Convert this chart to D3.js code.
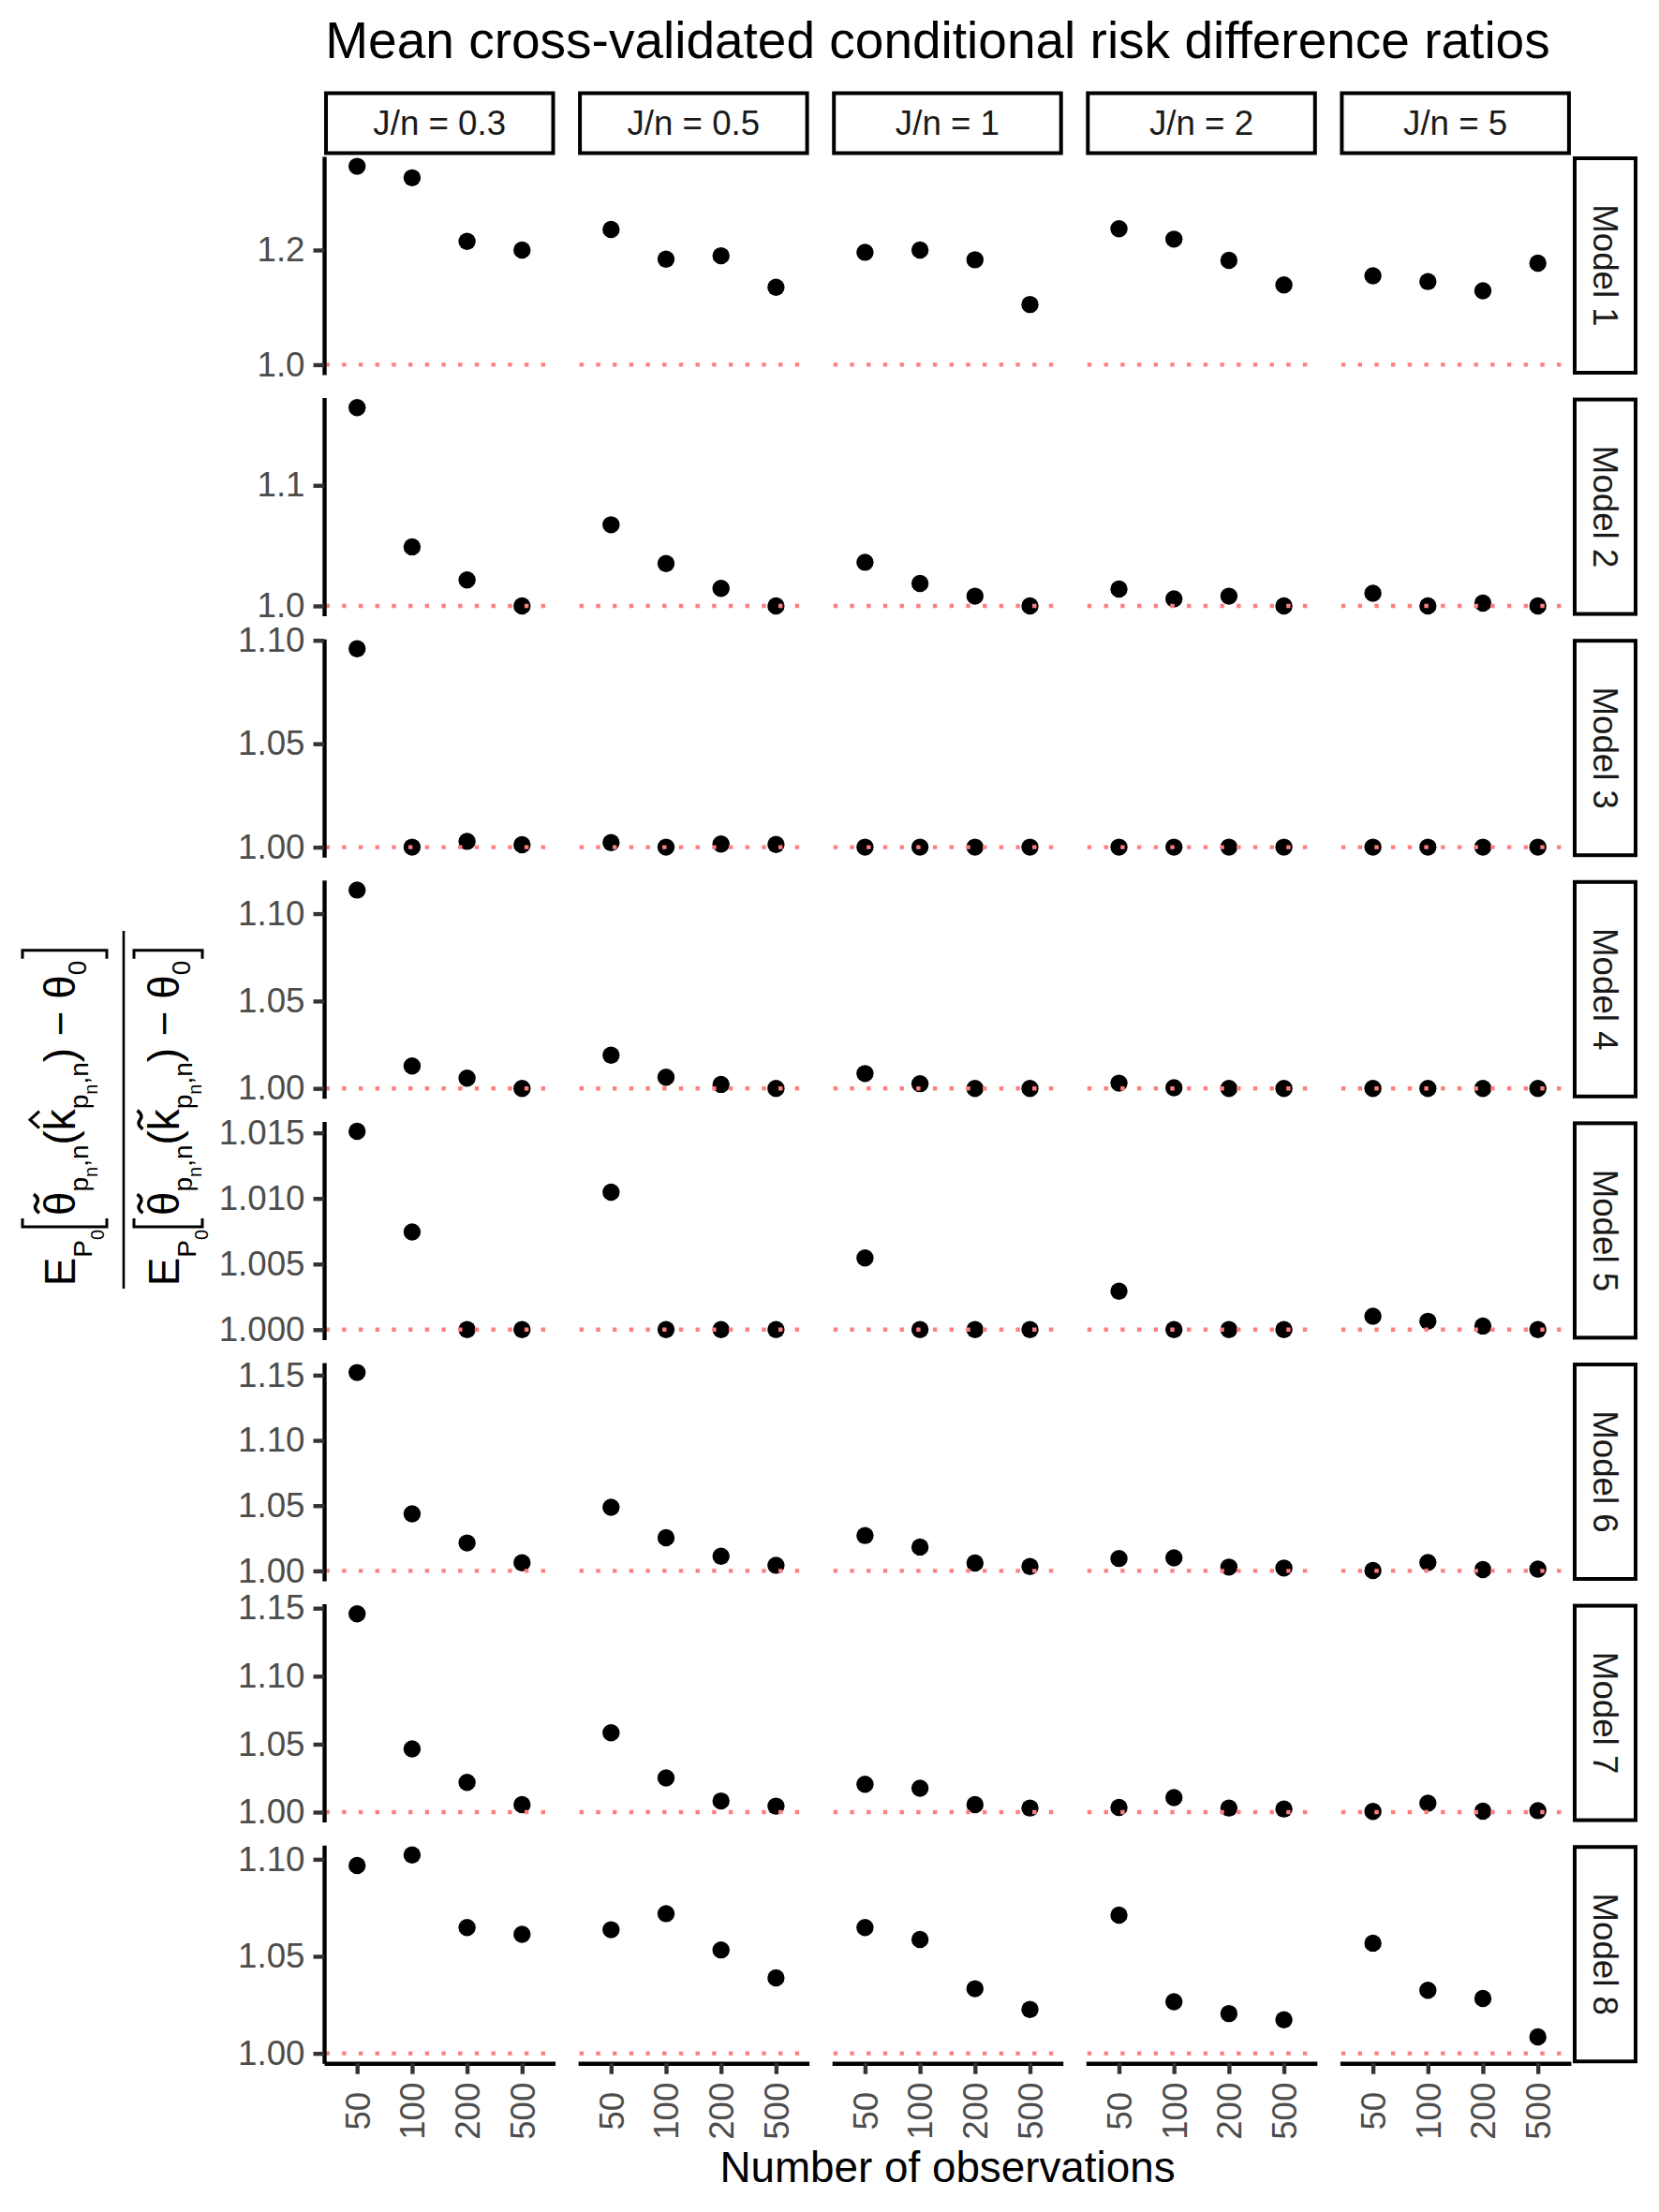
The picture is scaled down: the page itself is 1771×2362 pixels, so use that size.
<!DOCTYPE html>
<html>
<head>
<meta charset="utf-8">
<script src="https://cdn.jsdelivr.net/npm/d3@7"></script>
<style>
    body { margin: 0; background: #fff; }
    svg text { font-family: "Liberation Sans", Arial, Helvetica, sans-serif; }
</style>
</head>
<body>
<script>
// x categories and facet labels
var sampleSizes = ["50", "100", "200", "500"];
var ratioLabels = ["J/n = 0.3", "J/n = 0.5", "J/n = 1", "J/n = 2", "J/n = 5"];
var modelLabels = ["Model 1", "Model 2", "Model 3", "Model 4", "Model 5", "Model 6", "Model 7", "Model 8"];

// one row per J/n value, one value per sample size
var model1 = [
    [1.346, 1.326, 1.215, 1.200],
    [1.236, 1.184, 1.190, 1.135],
    [1.196, 1.200, 1.183, 1.105],
    [1.237, 1.219, 1.182, 1.139],
    [1.155, 1.145, 1.129, 1.177]
];
var model2 = [
    [1.1645, 1.049, 1.0216, 1.000],
    [1.0673, 1.0352, 1.0146, 1.000],
    [1.0362, 1.0186, 1.0081, 1.000],
    [1.014, 1.0058, 1.0081, 1.000],
    [1.0105, 1.000, 1.0023, 1.000]
];
var model3 = [
    [1.0959, 1.000, 1.0028, 1.0012],
    [1.0022, 1.000, 1.0015, 1.0013],
    [1.000, 1.000, 1.000, 1.000],
    [1.000, 1.000, 1.000, 1.000],
    [1.000, 1.000, 1.000, 1.000]
];
var model4 = [
    [1.1135, 1.0128, 1.0059, 1.000],
    [1.019, 1.0064, 1.0023, 1.000],
    [1.0085, 1.0027, 1.000, 1.000],
    [1.003, 1.0004, 1.000, 1.000],
    [1.000, 1.000, 1.000, 1.000]
];
var model5 = [
    [1.01512, 1.00745, 1.000, 1.000],
    [1.01048, 1.000, 1.000, 1.000],
    [1.00547, 1.000, 1.000, 1.000],
    [1.00293, 1.000, 1.000, 1.000],
    [1.00102, 1.00064, 1.00028, 1.000]
];
var model6 = [
    [1.152, 1.0437, 1.0214, 1.0062],
    [1.0487, 1.0254, 1.0112, 1.0043],
    [1.0271, 1.0183, 1.006, 1.0033],
    [1.0095, 1.010, 1.0029, 1.0022],
    [1.0003, 1.0064, 1.001, 1.0014]
];
var model7 = [
    [1.1459, 1.0465, 1.0219, 1.0055],
    [1.0584, 1.0251, 1.0082, 1.0044],
    [1.0205, 1.0176, 1.0055, 1.003],
    [1.0034, 1.0107, 1.003, 1.0023],
    [1.0005, 1.0066, 1.0007, 1.0011]
];
var model8 = [
    [1.0968, 1.1022, 1.0648, 1.0613],
    [1.0637, 1.072, 1.0533, 1.0389],
    [1.0648, 1.0587, 1.0333, 1.0226],
    [1.0712, 1.0266, 1.0205, 1.0173],
    [1.0568, 1.0325, 1.0283, 1.0085]
];

// y tick labels for each model row
var yTicks = [
    [1.0, 1.2],
    [1.0, 1.1],
    [1.00, 1.05, 1.10],
    [1.00, 1.05, 1.10],
    [1.000, 1.005, 1.010, 1.015],
    [1.00, 1.05, 1.10, 1.15],
    [1.00, 1.05, 1.10, 1.15],
    [1.00, 1.05, 1.10]
];
var yTickFormats = [".1f", ".1f", ".2f", ".2f", ".3f", ".2f", ".2f", ".2f"];
var reference = 1;

var RISK = {
    init: function () {
        var self = this;

        // PROPERTIES
        self.width = 1771;
        self.height = 2362;
        self.panelLeft = 346;
        self.panelTop = 167;
        self.panelW = 246.5;
        self.panelH = 233;
        self.gap = 24.6;
        self.stripTop = 97.5;
        self.stripH = 68;
        self.sideStripX = 1679;
        self.sideStripW = 69;

        self.models = [model1, model2, model3, model4, model5, model6, model7, model8];

        // SVG Setup
        self.svg = d3.select("body").append("svg");
        self.svg.attr("width", self.width);
        self.svg.attr("height", self.height);

        self.draw();
    },
    draw: function () {
        var self = this,
            x = d3.scalePoint().domain(sampleSizes).padding(0.6);

        self.models.forEach(function (rows, i) {
            var top = self.panelTop + i * (self.panelH + self.gap),
                bottom = top + self.panelH,
                all = d3.merge(rows).concat([reference]),
                lo = d3.min(all),
                hi = d3.max(all),
                pad = (hi - lo) * 0.05,
                y = d3.scaleLinear().domain([lo - pad, hi + pad]).range([bottom, top]);

            rows.forEach(function (vals, j) {
                var left = self.panelLeft + j * (self.panelW + self.gap),
                    xs = x.copy().range([left, left + self.panelW]),
                    g = self.svg.append("g");

                g.selectAll("circle").data(vals).enter().append("circle")
                    .attr("cx", function (d, k) { return xs(sampleSizes[k]); })
                    .attr("cy", function (d) { return y(d); })
                    .attr("r", 9.2)
                    .attr("fill", "#000");

                g.append("line")
                    .attr("x1", left + 1.5)
                    .attr("x2", left + self.panelW)
                    .attr("y1", y(reference))
                    .attr("y2", y(reference))
                    .attr("stroke", "#FF7F7F")
                    .attr("stroke-width", 4.4)
                    .attr("stroke-dasharray", "4.4 13.3");

                if (j === 0) {
                    self.yAxis(y, i, left);
                }
                if (i === self.models.length - 1) {
                    self.xAxis(xs, bottom);
                }
            });

            // side strip
            self.svg.append("rect")
                .attr("x", self.sideStripX + 2)
                .attr("y", top + 2)
                .attr("width", self.sideStripW - 4)
                .attr("height", self.panelH - 4)
                .attr("fill", "#fff")
                .attr("stroke", "#000")
                .attr("stroke-width", 4);
            self.svg.append("text")
                .attr("transform", "translate(" + (self.sideStripX + self.sideStripW / 2) + "," + (top + self.panelH / 2) + ") rotate(90)")
                .attr("text-anchor", "middle")
                .attr("dy", "0.35em")
                .attr("fill", "#1A1A1A")
                .style("font-size", "36.7px")
                .text(modelLabels[i]);
        });

        // top strips
        ratioLabels.forEach(function (label, j) {
            var left = self.panelLeft + j * (self.panelW + self.gap);
            self.svg.append("rect")
                .attr("x", left + 2)
                .attr("y", self.stripTop + 2)
                .attr("width", self.panelW - 4)
                .attr("height", self.stripH - 4)
                .attr("fill", "#fff")
                .attr("stroke", "#000")
                .attr("stroke-width", 4);
            self.svg.append("text")
                .attr("x", left + self.panelW / 2)
                .attr("y", self.stripTop + self.stripH / 2)
                .attr("dy", "0.35em")
                .attr("text-anchor", "middle")
                .attr("fill", "#1A1A1A")
                .style("font-size", "36.7px")
                .text(label);
        });

        // titles
        self.svg.append("text")
            .attr("x", 1001)
            .attr("y", 61.7)
            .attr("text-anchor", "middle")
            .attr("fill", "#000")
            .style("font-size", "55px")
            .text("Mean cross-validated conditional risk difference ratios");

        self.svg.append("text")
            .attr("x", 1011.5)
            .attr("y", 2330)
            .attr("text-anchor", "middle")
            .attr("fill", "#000")
            .style("font-size", "45.8px")
            .text("Number of observations");

        self.yLabel();
    },
    yAxis: function (y, i, left) {
        var self = this,
            axis = d3.axisLeft(y)
                .tickValues(yTicks[i])
                .tickFormat(d3.format(yTickFormats[i]))
                .tickSize(11.5)
                .tickSizeOuter(0)
                .tickPadding(9),
            ga = self.svg.append("g").attr("transform", "translate(" + left + ",0)").call(axis);

        ga.attr("font-size", null).attr("font-family", null);
        ga.select(".domain").attr("stroke", "#000").attr("stroke-width", 4.4);
        ga.selectAll(".tick line").attr("stroke", "#333").attr("stroke-width", 4.4);
        ga.selectAll(".tick text").attr("fill", "#4D4D4D").style("font-size", "36.7px");
    },
    xAxis: function (xs, bottom) {
        var self = this,
            axis = d3.axisBottom(xs).tickSize(11.5).tickSizeOuter(0),
            ga = self.svg.append("g").attr("transform", "translate(0," + bottom + ")").call(axis);

        ga.attr("font-size", null).attr("font-family", null);
        ga.select(".domain").attr("stroke", "#000").attr("stroke-width", 4.4);
        ga.selectAll(".tick line").attr("stroke", "#333").attr("stroke-width", 4.4);
        ga.selectAll(".tick text")
            .attr("x", 0)
            .attr("y", 0)
            .attr("dy", "0.35em")
            .attr("text-anchor", "middle")
            .attr("transform", "translate(0,51) rotate(-90)")
            .attr("fill", "#4D4D4D")
            .style("font-size", "36.7px");
    },
    yLabel: function () {
        var self = this,
            g = self.svg.append("g").attr("transform", "translate(132,1185) rotate(-90)");

        g.append("line")
            .attr("x1", -191).attr("x2", 191)
            .attr("y1", 0).attr("y2", 0)
            .attr("stroke", "#000")
            .attr("stroke-width", 2.6);

        self.mathRow(g, "hat", -52, -56, 34);
        self.mathRow(g, "tilde", 58.5, -47.5, 25.5);
    },
    mathRow: function (parent, accent, base, brTop, brBot) {
        var M = 45.8, S = 28, SS = 20,
            row = parent.append("g"),
            cx = 0,
            pieces;

        // non-breaking spaces so the blanks around the minus are kept
        pieces = [
            {t: "E", s: M},
            {t: "P", s: S, dy: 18},
            {t: "0", s: SS, dy: 31},
            {br: "["},
            {t: "\u03b8", s: M, acc: "tilde"},
            {t: "p", s: S, dy: 14},
            {t: "n", s: SS, dy: 24},
            {t: ",n", s: S, dy: 14},
            {t: "(", s: M},
            {t: "k", s: M, acc: accent},
            {t: "p", s: S, dy: 14},
            {t: "n", s: SS, dy: 24},
            {t: ",n", s: S, dy: 14},
            {t: ")", s: M},
            {t: "\u00a0\u2212\u00a0", s: M},
            {t: "\u03b8", s: M},
            {t: "0", s: S, dy: 12},
            {br: "]"}
        ];

        pieces.forEach(function (p) {
            var w, t, mid, ay;
            if (p.br) {
                w = 9;
                row.append("path")
                    .attr("d", p.br === "["
                        ? "M" + (cx + w + 3) + "," + (base + brTop) + "H" + (cx + 3) + "V" + (base + brBot) + "H" + (cx + w + 3)
                        : "M" + (cx + 2) + "," + (base + brTop) + "H" + (cx + w + 2) + "V" + (base + brBot) + "H" + (cx + 2))
                    .attr("fill", "none")
                    .attr("stroke", "#000")
                    .attr("stroke-width", 3);
                cx += w + 6;
                return;
            }
            t = row.append("text")
                .attr("x", cx)
                .attr("y", base + (p.dy || 0))
                .attr("fill", "#000")
                .style("font-size", p.s + "px")
                .text(p.t);
            w = t.node().getComputedTextLength();
            mid = cx + w / 2;
            if (p.acc === "tilde") {
                ay = base - 41;
                row.append("path")
                    .attr("d", "M" + (mid - 10) + "," + (ay + 3) + "Q" + (mid - 5) + "," + (ay - 4) + " " + mid + "," + ay + "T" + (mid + 10) + "," + (ay - 3))
                    .attr("fill", "none")
                    .attr("stroke", "#000")
                    .attr("stroke-width", 3.5);
            } else if (p.acc === "hat") {
                ay = base - 43;
                row.append("path")
                    .attr("d", "M" + (mid - 9) + "," + (ay + 5) + "L" + mid + "," + (ay - 5) + "L" + (mid + 9) + "," + (ay + 5))
                    .attr("fill", "none")
                    .attr("stroke", "#000")
                    .attr("stroke-width", 3);
            }
            cx += w;
        });

        row.attr("transform", "translate(" + (-7 - cx / 2) + ",0)");
    }
};

RISK.init();
</script>
</body>
</html>
